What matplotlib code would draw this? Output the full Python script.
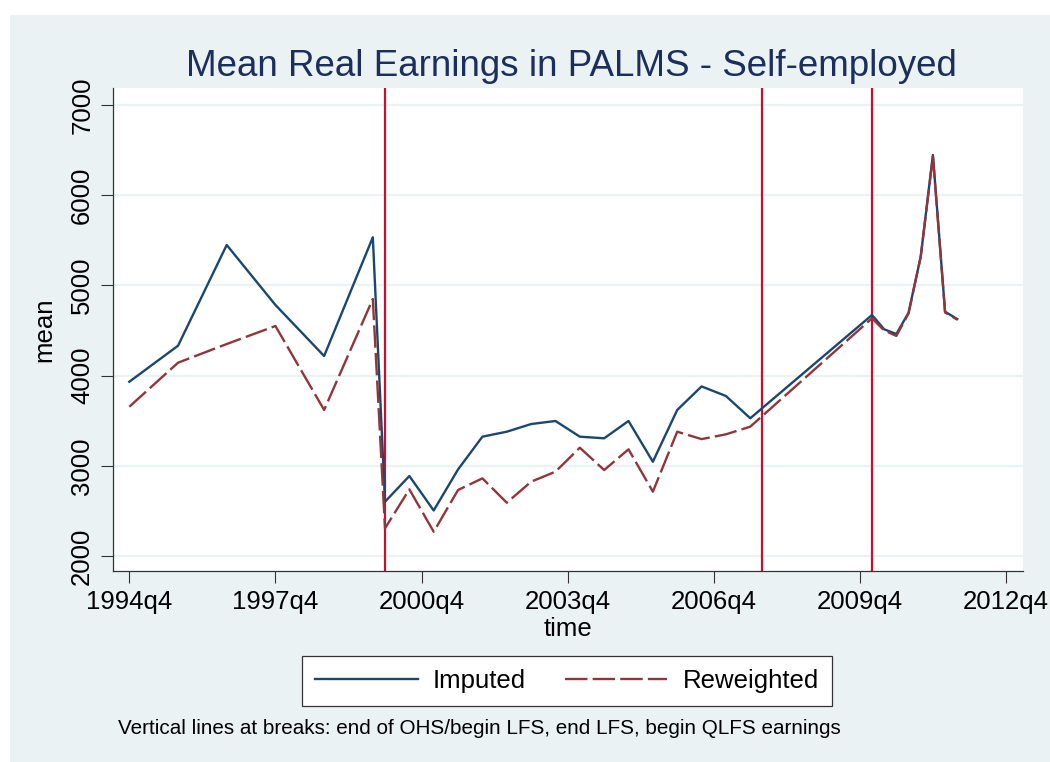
import matplotlib
matplotlib.use("Agg")
import matplotlib.pyplot as plt
from matplotlib.patches import Rectangle

# Stata-style quarterly dates
periods = ["1994q4", "1995q4", "1996q4", "1997q4", "1998q4", "1999q4",
           "2000q1", "2000q3", "2001q1", "2001q3", "2002q1", "2002q3",
           "2003q1", "2003q3", "2004q1", "2004q3", "2005q1", "2005q3",
           "2006q1", "2006q3", "2007q1", "2007q3",
           "2010q1", "2010q2", "2010q3", "2010q4", "2011q1", "2011q2",
           "2011q3", "2011q4"]
imputed = [3932, 4331, 5448, 4783, 4217, 5533,
           2602, 2887, 2505, 2960, 3323, 3378,
           3463, 3497, 3323, 3305, 3497, 3045,
           3619, 3880, 3774, 3527,
           4672, 4513, 4461, 4697, 5318, 6446,
           4708, 4627]
reweighted = [3655, 4143, 4350, 4550, 3619, 4849,
              2307, 2739, 2269, 2732, 2861, 2591,
              2824, 2935, 3201, 2953, 3183, 2713,
              3378, 3296, 3349, 3434,
              4635, 4500, 4440, 4690, 5320, 6430,
              4700, 4620]
breaks = ["2000q1", "2007q4", "2010q1"]
xtick_labels = ["1994q4", "1997q4", "2000q4", "2003q4", "2006q4", "2009q4", "2012q4"]
yticks = [2000, 3000, 4000, 5000, 6000, 7000]


def qnum(s):
    y, q = s.split("q")
    return (int(y) - 1960) * 4 + int(q) - 1


NAVY, MAROON, RED = "#1a476f", "#90353b", "#c8102e"
BG = "#eaf2f3"
plt.rcParams["font.family"] = ["Liberation Sans", "DejaVu Sans"]

W, H = 1050, 762
fig = plt.figure(figsize=(W / 100, H / 100), dpi=100, facecolor="white")
fig.patches.append(Rectangle((10 / W, 0), 1 - 10 / W, 1 - 15 / H,
                             transform=fig.transFigure, facecolor=BG,
                             edgecolor="none", zorder=-10))

ax = fig.add_axes([113 / W, 191 / H, 910 / W, 483 / H])
ax.set_facecolor("white")

x = [qnum(p) for p in periods]
for b in breaks:
    ax.axvline(qnum(b), color=RED, lw=1.6, zorder=2)
ax.plot(x, imputed, color=NAVY, lw=1.7, label="Imputed", zorder=3)
ax.plot(x, reweighted, color=MAROON, lw=1.7, dashes=(9.5, 2.2),
        label="Reweighted", zorder=4)

ax.set_yticks(yticks)
ax.set_yticklabels([str(v) for v in yticks], rotation=90, va="center")
ax.set_xticks([qnum(t) for t in xtick_labels])
ax.set_xticklabels(xtick_labels)
ax.set_xlim(qnum("1994q4") - 1.34, qnum("1994q4") + 73.4)
ax.set_ylim(1834, 7188)
ax.grid(True, axis="y", color=BG, lw=1.6)
ax.set_axisbelow(True)
ax.tick_params(labelsize=18.5, length=8.5, width=0.8, color="#333333", pad=5)
for s in ("top", "right"):
    ax.spines[s].set_visible(False)
for s in ("left", "bottom"):
    ax.spines[s].set_color("#333333")
    ax.spines[s].set_linewidth(0.9)

ax.set_ylabel("mean", fontsize=18.5, labelpad=10)
ax.set_xlabel("time", fontsize=18.5, labelpad=2)

fig.text(571 / W, 1 - 76 / H, "Mean Real Earnings in PALMS - Self-employed",
         ha="center", va="baseline", fontsize=26.5, color="#1c2e5c")

leg = fig.legend(loc="center", bbox_to_anchor=(567 / W, 1 - 681 / H), ncol=2,
                 fontsize=18.5, handlelength=4.0, handletextpad=0.6,
                 columnspacing=1.5, borderpad=0.5, fancybox=False,
                 frameon=True, edgecolor="#333333", facecolor="white",
                 framealpha=1)
leg.get_frame().set_linewidth(0.9)

fig.text(118 / W, 1 - 729 / H,
         "Vertical lines at breaks: end of OHS/begin LFS, end LFS, begin QLFS earnings",
         ha="left", va="center", fontsize=14.9, color="black")

fig.savefig("out.png", dpi=100, facecolor="white")
